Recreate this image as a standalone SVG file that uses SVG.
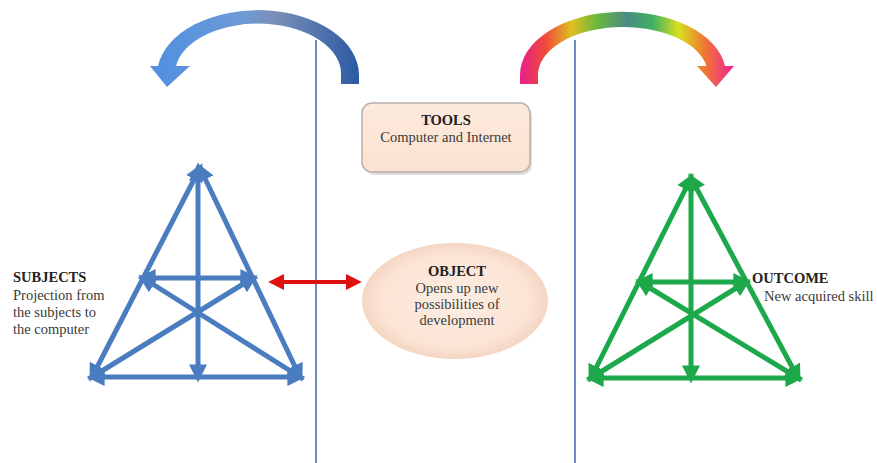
<svg xmlns="http://www.w3.org/2000/svg" width="877" height="463" viewBox="0 0 877 463">
<defs>
<linearGradient id="gBlue" x1="0" y1="0" x2="1" y2="0">
<stop offset="0" stop-color="#4f8fe0"/>
<stop offset="0.45" stop-color="#6e9ad6"/>
<stop offset="0.6" stop-color="#7a8fb8"/>
<stop offset="1" stop-color="#2b5aa3"/>
</linearGradient>
<linearGradient id="gRainbow" x1="0" y1="0" x2="1" y2="0">
<stop offset="0" stop-color="#e8208c"/>
<stop offset="0.12" stop-color="#f04a3a"/>
<stop offset="0.24" stop-color="#e0c020"/>
<stop offset="0.36" stop-color="#6ab83c"/>
<stop offset="0.5" stop-color="#4a8c86"/>
<stop offset="0.62" stop-color="#3fb060"/>
<stop offset="0.74" stop-color="#d8e020"/>
<stop offset="0.86" stop-color="#f07a30"/>
<stop offset="1" stop-color="#f0209a"/>
</linearGradient>
<linearGradient id="gTools" x1="0" y1="0" x2="0" y2="1">
<stop offset="0" stop-color="#fdeadd"/>
<stop offset="1" stop-color="#fbe2d0"/>
</linearGradient>
<radialGradient id="gObj" cx="0.5" cy="0.5" r="0.5">
<stop offset="0" stop-color="#fdeee4"/>
<stop offset="0.8" stop-color="#fbe4d4"/>
<stop offset="1" stop-color="#f4d6c2"/>
</radialGradient>
<marker id="mB" viewBox="0 0 10 10" refX="7" refY="5" markerWidth="3.6" markerHeight="3.6" orient="auto-start-reverse">
<path d="M0,0 L10,5 L0,10 z" fill="#4a7cc0"/>
</marker>
<marker id="mG" viewBox="0 0 10 10" refX="7" refY="5" markerWidth="3.6" markerHeight="3.6" orient="auto-start-reverse">
<path d="M0,0 L10,5 L0,10 z" fill="#1ea84c"/>
</marker>
<marker id="mR" viewBox="0 0 10 10" refX="7" refY="5" markerWidth="4" markerHeight="4" orient="auto-start-reverse">
<path d="M0,0 L10,5 L0,10 z" fill="#e01010"/>
</marker>
<style>
.vline{stroke:#6a8cc4;stroke-width:2;fill:none}
.tb{stroke:#4a7cc0;stroke-width:5;fill:none;marker-start:url(#mB);marker-end:url(#mB)}
.tg{stroke:#1ea84c;stroke-width:5;fill:none;marker-start:url(#mG);marker-end:url(#mG)}
.t{font-family:"Liberation Serif","Times New Roman",serif;font-size:14.5px;fill:#3a3a3a}
.b{font-weight:bold;fill:#222}
</style>
</defs>
<rect width="877" height="463" fill="#ffffff"/>

<g id="dividers">
<line class="vline" x1="316" y1="40" x2="316" y2="463"/>
<line class="vline" x1="575" y1="40" x2="575" y2="463"/>
</g>

<g id="arrow-left">
<path d="M341 84 L359 84 L359 75 A101 65 0 0 0 158 66 L150 66 L167 87 L190 66 L176 66 A83 50 0 0 1 341 75 Z" fill="url(#gBlue)"/>
</g>

<g id="arrow-right">
<path d="M538 84 L538 75 A85 48 0 0 1 706.5 66 L697 66 L716 87 L734 66 L725 66 A103 63 0 0 0 520 75 L520 84 Z" fill="url(#gRainbow)"/>
</g>

<g id="tools">
<rect x="364" y="106" width="168" height="69" rx="10" fill="#c8c8c8" opacity="0.6"/>
<rect x="362" y="103" width="168" height="69" rx="10" fill="url(#gTools)" stroke="#b8b0aa" stroke-width="1.5"/>
<text class="t b" x="446" y="125" text-anchor="middle">TOOLS</text>
<text class="t" x="446" y="142" text-anchor="middle">Computer and Internet</text>
</g>

<g id="object">
<ellipse cx="455" cy="301" rx="93" ry="58" fill="url(#gObj)"/>
<text class="t b" x="457" y="276" text-anchor="middle">OBJECT</text>
<text class="t" x="457" y="293" text-anchor="middle">Opens up new</text>
<text class="t" x="457" y="309" text-anchor="middle">possibilities of</text>
<text class="t" x="457" y="325" text-anchor="middle">development</text>
</g>

<g id="subjects">
<g id="triangle-blue">
<line class="tb" x1="200" y1="168" x2="92" y2="377"/>
<line class="tb" x1="200" y1="168" x2="300" y2="377"/>
<line class="tb" x1="92" y1="377" x2="300" y2="377"/>
<line class="tb" x1="143" y1="278" x2="253" y2="278"/>
<line class="tb" x1="92" y1="377" x2="253" y2="278"/>
<line class="tb" x1="300" y1="377" x2="143" y2="278"/>
<line class="tb" x1="198" y1="168" x2="198" y2="377"/>
</g>
<text class="t b" x="13" y="282">SUBJECTS</text>
<text class="t" x="13" y="300">Projection from</text>
<text class="t" x="13" y="317">the subjects to</text>
<text class="t" x="13" y="334">the computer</text>
</g>

<g id="outcome">
<g id="triangle-green">
<line class="tg" x1="691" y1="178" x2="591" y2="378"/>
<line class="tg" x1="691" y1="178" x2="798" y2="378"/>
<line class="tg" x1="591" y1="378" x2="798" y2="378"/>
<line class="tg" x1="640" y1="282" x2="746" y2="282"/>
<line class="tg" x1="591" y1="378" x2="746" y2="282"/>
<line class="tg" x1="798" y1="378" x2="640" y2="282"/>
<line class="tg" x1="691" y1="178" x2="691" y2="378"/>
</g>
<text class="t b" x="752" y="283">OUTCOME</text>
<text class="t" x="764" y="301">New acquired skill</text>
</g>

<g id="connectors">
<line x1="273" y1="282" x2="357" y2="282" stroke="#e01010" stroke-width="4" marker-start="url(#mR)" marker-end="url(#mR)"/>
</g>
</svg>
